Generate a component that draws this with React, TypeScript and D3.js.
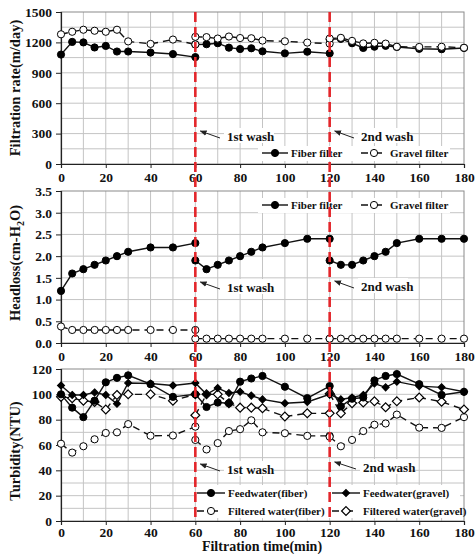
import React, { useRef, useEffect } from "react";
import * as d3 from "d3";

// time axis (min) for each filtration cycle
const cycle1 = [0, 5, 10, 15, 20, 25, 30, 40, 50, 60];
const cycle2 = [60, 65, 70, 75, 80, 85, 90, 100, 110, 120];
const cycle3 = [120, 125, 130, 135, 140, 145, 150, 160, 170, 180];
const allTimes = [0, 5, 10, 15, 20, 25, 30, 40, 50, 60, 65, 70, 75, 80, 85, 90, 100, 110, 120, 125, 130, 135, 140, 145, 150, 160, 170, 180];
const xTicks = [0, 20, 40, 60, 80, 100, 120, 140, 160, 180];
const washTimes = [60, 120];

// filtration rate (m/day)
const rateFiber1 = [1080, 1205, 1200, 1150, 1165, 1110, 1110, 1100, 1085, 1055];
const rateFiber2 = [1180, 1182, 1192, 1148, 1135, 1142, 1112, 1092, 1108, 1092];
const rateFiber3 = [1230, 1235, 1192, 1145, 1158, 1166, 1155, 1137, 1133, 1145];
const rateGravel1 = [1280, 1305, 1325, 1315, 1305, 1325, 1210, 1185, 1228, 1180];
const rateGravel2 = [1255, 1252, 1238, 1258, 1243, 1241, 1218, 1211, 1198, 1188];
const rateGravel3 = [1238, 1245, 1215, 1190, 1196, 1188, 1157, 1155, 1157, 1147];
const rateTicks = [0, 300, 600, 900, 1200, 1500];

// headloss (cm-H2O)
const hlFiber1 = [1.2, 1.6, 1.7, 1.8, 1.9, 2.0, 2.1, 2.2, 2.2, 2.3];
const hlFiber2 = [1.9, 1.7, 1.8, 1.9, 2.0, 2.1, 2.2, 2.3, 2.4, 2.4];
const hlFiber3 = [1.9, 1.8, 1.8, 1.9, 2.0, 2.1, 2.3, 2.4, 2.4, 2.4];
const hlGravel1 = [0.38, 0.3, 0.3, 0.3, 0.3, 0.3, 0.3, 0.3, 0.3, 0.3];
const hlGravel2 = [0.1, 0.1, 0.1, 0.1, 0.1, 0.1, 0.1, 0.1, 0.1, 0.1];
const hlGravel3 = [0.1, 0.1, 0.1, 0.1, 0.1, 0.1, 0.1, 0.1, 0.1, 0.1];
const hlTicks = [0, 0.5, 1.0, 1.5, 2.0, 2.5, 3.0, 3.5];

// turbidity (NTU)
const feedFiber = [100, 89.5, 82, 95, 109.5, 113, 115, 108, 98, 100, 90, 93.5, 93, 110, 112.5, 114.5, 106, 97, 106.5, 90.5, 96.5, 97.5, 111, 114.5, 116, 108, 99.5, 102];
const feedGravel = [107, 99.5, 99.5, 101.5, 99.5, 92.5, 109, 108.5, 107, 109, 100, 105, 101, 102, 99, 96, 93, 94, 100, 96, 97.5, 99.5, 108.5, 105.5, 110, 106.5, 105.5, 102];
const filtFiber1 = [61, 54, 59, 64.5, 69.5, 70, 76.5, 67.3, 67.5, 74.5];
const filtFiber2 = [64, 56.5, 61.5, 71, 72.5, 79.5, 70, 69.3, 67.2, 67.2];
const filtFiber3 = [66.5, 59, 64, 71, 76, 77, 84, 73.7, 73.5, 82];
const filtGravel1 = [98, 97, 95, 94, 88, 99.5, 100, 100, 95, 100];
const filtGravel2 = [83.5, 100, 100, 93, 89.5, 89.5, 89, 82.5, 85, 85];
const filtGravel3 = [100.5, 85, 93, 93.5, 94.5, 89.8, 94.5, 97.5, 94.2, 88];
const turbTicks = [0, 20, 40, 60, 80, 100, 120];

const FONT = "'Liberation Serif', 'Times New Roman', serif";
const X0 = 61;
const X1 = 464;

type Marker = "fc" | "oc" | "fd" | "od";

const App = () => {
  const svgRef = useRef<SVGSVGElement>(null);

  useEffect(() => {
    const svg = d3.select(svgRef.current);
    svg.selectAll("*").remove();

    const x = d3.scaleLinear().domain([0, 180]).range([X0, X1]);

    const panel = (top: number, bottom: number, yMax: number, ticks: number[], grid: number, fmt: (d: any) => string, pad: number) => {
      const y = d3.scaleLinear().domain([0, yMax]).range([bottom, top]);
      const g = svg.append("g");
      g.selectAll(".vg")
        .data(d3.range(10, 180, 10))
        .enter()
        .append("line")
        .attr("x1", (d) => x(d))
        .attr("x2", (d) => x(d))
        .attr("y1", top)
        .attr("y2", bottom)
        .attr("stroke", "#c4c4c4")
        .attr("stroke-width", 1);
      g.selectAll(".hg")
        .data(d3.range(grid, yMax - 1e-6, grid))
        .enter()
        .append("line")
        .attr("x1", X0)
        .attr("x2", X1)
        .attr("y1", (d) => y(d))
        .attr("y2", (d) => y(d))
        .attr("stroke", "#c4c4c4")
        .attr("stroke-width", 1);
      g.append("rect")
        .attr("x", X0)
        .attr("y", top)
        .attr("width", X1 - X0)
        .attr("height", bottom - top)
        .attr("fill", "none")
        .attr("stroke", "#8a8a8a");

      const ya = g
        .append("g")
        .attr("transform", `translate(${X0},0)`)
        .call(d3.axisLeft(y).tickValues(ticks).tickFormat(fmt).tickSize(5).tickPadding(4));
      const xa = g
        .append("g")
        .attr("transform", `translate(0,${bottom})`)
        .call(d3.axisBottom(x).tickValues(xTicks).tickSize(4).tickPadding(pad));
      [ya, xa].forEach((a) => {
        a.attr("font-family", FONT).attr("font-size", 13.5).attr("font-weight", "bold");
        a.selectAll("text").attr("fill", "#111");
        a.selectAll("line").attr("stroke", "#222");
        a.select(".domain").attr("stroke", "#222").attr("stroke-width", 1.2);
      });
      return y;
    };

    const drawMarkers = (px: number[], py: number[], marker: Marker) => {
      const g = svg.append("g");
      px.forEach((cx, i) => {
        const cy = py[i];
        if (marker === "fc" || marker === "oc") {
          g.append("circle")
            .attr("cx", cx)
            .attr("cy", cy)
            .attr("r", 3.6)
            .attr("fill", marker === "fc" ? "#000" : "#fff")
            .attr("stroke", "#000")
            .attr("stroke-width", 1);
        } else {
          g.append("path")
            .attr("d", d3.symbol(d3.symbolDiamond2, marker === "fd" ? 30 : 50)())
            .attr("transform", `translate(${cx},${cy})`)
            .attr("fill", marker === "fd" ? "#000" : "#fff")
            .attr("stroke", "#000")
            .attr("stroke-width", 1.2);
        }
      });
    };

    const series = (y: d3.ScaleLinear<number, number>, xs: number[], ys: number[], marker: Marker, dashed: boolean) => {
      const line = d3
        .line<number>()
        .x((d, i) => x(xs[i]))
        .y((d) => y(d));
      svg
        .append("path")
        .attr("d", line(ys))
        .attr("fill", "none")
        .attr("stroke", "#111")
        .attr("stroke-width", 1.4)
        .attr("stroke-dasharray", dashed ? "7,5" : null);
      drawMarkers(xs.map((t) => x(t)), ys.map((v) => y(v)), marker);
    };

    const bgRect = (x0: number, y0: number, w: number, h: number) =>
      svg.append("rect").attr("x", x0).attr("y", y0).attr("width", w).attr("height", h).attr("fill", "#fff");

    const label = (tx: number, ty: number, s: string, size: number) =>
      svg
        .append("text")
        .attr("x", tx)
        .attr("y", ty)
        .attr("font-family", FONT)
        .attr("font-weight", "bold")
        .attr("font-size", size)
        .attr("fill", "#111")
        .text(s);

    const legendItem = (lx: number, ly: number, marker: Marker, dashed: boolean, s: string, w: number) => {
      svg
        .append("line")
        .attr("x1", lx)
        .attr("x2", lx + w)
        .attr("y1", ly)
        .attr("y2", ly)
        .attr("stroke", "#111")
        .attr("stroke-width", 1.4)
        .attr("stroke-dasharray", dashed ? "7,7" : null);
      drawMarkers([lx + w / 2], [ly], marker);
      label(lx + w + 3, ly + 4, s, 11);
    };

    const washNote = (ay: number, s: string, wx: number, tx: number) => {
      bgRect(tx - 3, ay - 9, 50, 15);
      svg
        .append("line")
        .attr("x1", tx - 7)
        .attr("y1", ay + 1)
        .attr("x2", x(wx) + 5)
        .attr("y2", ay - 6)
        .attr("stroke", "#222")
        .attr("stroke-width", 1)
        .attr("marker-end", "url(#arrow)");
      label(tx, ay + 4, s, 13);
    };

    svg
      .append("defs")
      .append("marker")
      .attr("id", "arrow")
      .attr("viewBox", "0 0 10 10")
      .attr("refX", 9)
      .attr("refY", 5)
      .attr("markerWidth", 7)
      .attr("markerHeight", 7)
      .attr("orient", "auto")
      .append("path")
      .attr("d", "M0,1 L10,5 L0,9 Z")
      .attr("fill", "#222");

    // --- panel 1: filtration rate
    const y1 = panel(12, 164, 1500, rateTicks, 150, (d) => String(d), 4);
    washNote(137, "1st wash", 60, 227);
    washNote(137, "2nd wash", 120, 361);
    bgRect(258, 146, 192, 15);
    legendItem(262, 153, "fc", false, "Fiber filter", 26);
    legendItem(361, 153, "oc", true, "Gravel filter", 26);
    series(y1, cycle1, rateFiber1, "fc", false);
    series(y1, cycle2, rateFiber2, "fc", false);
    series(y1, cycle3, rateFiber3, "fc", false);
    series(y1, cycle1, rateGravel1, "oc", true);
    series(y1, cycle2, rateGravel2, "oc", true);
    series(y1, cycle3, rateGravel3, "oc", true);

    // --- panel 2: headloss
    const y2 = panel(191, 343, 3.5, hlTicks, 0.5, (d) => d3.format(".1f")(d), 4);
    washNote(288, "1st wash", 60, 227);
    washNote(287, "2nd wash", 120, 361);
    bgRect(258, 198, 192, 15);
    legendItem(262, 205, "fc", false, "Fiber filter", 26);
    legendItem(361, 205, "oc", true, "Gravel filter", 26);
    series(y2, cycle1, hlFiber1, "fc", false);
    series(y2, cycle2, hlFiber2, "fc", false);
    series(y2, cycle3, hlFiber3, "fc", false);
    series(y2, cycle1, hlGravel1, "oc", true);
    series(y2, cycle2, hlGravel2, "oc", true);
    series(y2, cycle3, hlGravel3, "oc", true);

    // --- panel 3: turbidity
    const y3 = panel(369, 521, 120, turbTicks, 10, (d) => String(d), 2);
    washNote(470, "1st wash", 60, 227);
    washNote(468, "2nd wash", 120, 363);
    bgRect(196, 485, 264, 33);
    legendItem(197, 493, "fc", false, "Feedwater(fiber)", 28);
    legendItem(332, 493, "fd", false, "Feedwater(gravel)", 28);
    legendItem(197, 511, "oc", true, "Filtered water(fiber)", 28);
    legendItem(332, 511, "od", true, "Filtered water(gravel)", 28);
    series(y3, cycle1, filtFiber1, "oc", true);
    series(y3, cycle2, filtFiber2, "oc", true);
    series(y3, cycle3, filtFiber3, "oc", true);
    series(y3, cycle1, filtGravel1, "od", true);
    series(y3, cycle2, filtGravel2, "od", true);
    series(y3, cycle3, filtGravel3, "od", true);
    series(y3, allTimes, feedGravel, "fd", false);
    series(y3, allTimes, feedFiber, "fc", false);

    // backwash markers
    svg
      .selectAll(".wash")
      .data(washTimes)
      .enter()
      .append("line")
      .attr("x1", (d) => x(d))
      .attr("x2", (d) => x(d))
      .attr("y1", 12)
      .attr("y2", 521)
      .attr("stroke", "#e3262b")
      .attr("stroke-width", 2.6)
      .attr("stroke-dasharray", "10,5");

    // axis titles
    const titles = [
      { cy: 88, s: "Filtration rate(m/day)" },
      { cy: 263, s: "" },
      { cy: 451, s: "Turbidity(NTU)" },
    ];
    titles.forEach((t) => {
      const tt = svg
        .append("text")
        .attr("transform", `translate(20,${t.cy}) rotate(-90)`)
        .attr("text-anchor", "middle")
        .attr("font-family", FONT)
        .attr("font-weight", "bold")
        .attr("font-size", 14.5)
        .attr("fill", "#111");
      if (t.s) {
        tt.text(t.s);
      } else {
        tt.append("tspan").text("Headloss(cm-H");
        tt.append("tspan").attr("dy", 4).attr("font-size", 10).text("2");
        tt.append("tspan").attr("dy", -4).text("O)");
      }
    });
    svg
      .append("text")
      .attr("x", 262)
      .attr("y", 550.5)
      .attr("text-anchor", "middle")
      .attr("font-family", FONT)
      .attr("font-weight", "bold")
      .attr("font-size", 14)
      .attr("fill", "#111")
      .text("Filtration time(min)");
  }, []);

  return (
    <svg
      ref={svgRef}
      width={475}
      height={554}
      style={{ position: "absolute", left: 0, top: 0, background: "#fff" }}
    ></svg>
  );
};

export default App;
